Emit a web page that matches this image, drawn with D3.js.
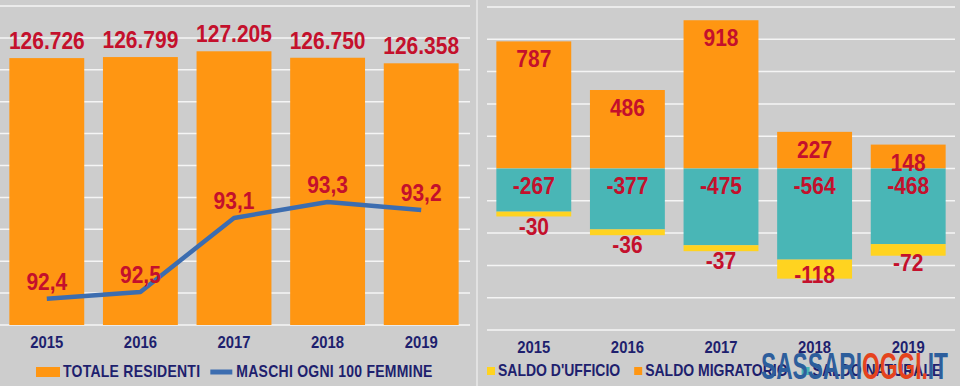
<!DOCTYPE html>
<html>
<head>
<meta charset="utf-8">
<script src="https://cdn.jsdelivr.net/npm/d3@7"></script>
<style>
    body { margin: 0; background: #cdcdcd; }
    svg { display: block; }
    text { font-family: Arial, "Liberation Sans", sans-serif; }
</style>
</head>
<body>
<div id="chart"></div>
<script>
// data
const years = ['2015', '2016', '2017', '2018', '2019'];
const totaleResidenti = [126726, 126799, 127205, 126750, 126358];
const maschiOgni100 = [92.43, 92.49, 93.14, 93.28, 93.21];
const saldoMigratorio = [787, 486, 918, 227, 148];
const saldoNaturale = [-267, -377, -475, -564, -468];
const saldoUfficio = [-30, -36, -37, -118, -72];

const leftLegend = ['TOTALE RESIDENTI', 'MASCHI OGNI 100 FEMMINE'];
const rightLegend = [
    {key: 'ufficio', label: "SALDO D'UFFICIO"},
    {key: 'migratorio', label: 'SALDO MIGRATORIO'},
    {key: 'naturale', label: 'SALDO NATURALE'},
];

const colors = {
    bg: '#cdcdcd',
    grid: '#f5f5f5',
    orange: '#ff9612',
    teal: '#49b6b6',
    yellow: '#ffd320',
    line: '#3c6db0',
    value: '#c4102c',
    navy: '#1e1f6e',
};

const W = 960;
const H = 386;
const SX = 0.875; // the reference text is a bit squeezed horizontally

const svg = d3.select('#chart')
    .append('svg')
    .attr('width', W)
    .attr('height', H);

svg.append('rect')
    .attr('width', W)
    .attr('height', H)
    .attr('fill', colors.bg);

const label = (g, x, y, txt, size, color, weight) => {
    return g.append('text')
        .attr('transform', 'translate(' + x + ',' + y + ') scale(' + SX + ',1)')
        .attr('text-anchor', 'middle')
        .attr('font-size', size)
        .attr('font-weight', weight || 'bold')
        .attr('fill', color)
        .text(txt);
};

const fmtInt = (v) => d3.format(',')(v).replace(/,/g, '.');
const fmtDec = (v) => d3.format('.1f')(v).replace('.', ',');

const yearAxis = (g, scale, y0) => {
    const ax = g.append('g')
        .attr('transform', 'translate(0,' + y0 + ')')
        .call(d3.axisBottom(scale).tickSize(0));
    ax.select('.domain').remove();
    ax.selectAll('text')
        .attr('y', 23)
        .attr('dy', 0)
        .attr('transform', 'scale(' + SX + ',1)')
        .attr('font-size', 17)
        .attr('font-weight', 'bold')
        .attr('font-family', 'Arial, "Liberation Sans", sans-serif')
        .attr('fill', colors.navy);
};

// ---------- left panel ----------
const left = svg.append('g').attr('class', 'left');

const xL = d3.scaleBand()
    .domain(years)
    .range([0, 468])
    .paddingInner(0.2)
    .paddingOuter(0.1);

const yL = d3.scaleLinear()
    .domain([107900, 130400])
    .range([325, 6]);

const yM = d3.scaleLinear()
    .domain([92.2, 95.0])
    .range([325, 6]);

const [lMin, lMax] = yL.domain();
left.append('g')
    .selectAll('line')
    .data(d3.range(11).map((i) => lMin + i * (lMax - lMin) / 10))
    .enter()
    .append('line')
    .attr('x1', 0)
    .attr('x2', 470)
    .attr('y1', (d) => yL(d))
    .attr('y2', (d) => yL(d))
    .attr('stroke', colors.grid)
    .attr('stroke-width', 1.5);

left.append('g')
    .selectAll('rect')
    .data(years)
    .enter()
    .append('rect')
    .attr('x', (d) => xL(d))
    .attr('width', xL.bandwidth())
    .attr('y', (d, i) => yL(totaleResidenti[i]))
    .attr('height', (d, i) => yL(lMin) - yL(totaleResidenti[i]))
    .attr('fill', colors.orange);

years.forEach((yr, i) => {
    label(left, xL(yr) + xL.bandwidth() / 2, yL(totaleResidenti[i]) - 9,
        fmtInt(totaleResidenti[i]), 24, colors.value);
});

const line = d3.line()
    .x((d, i) => xL(years[i]) + xL.bandwidth() / 2)
    .y((d) => yM(d));

left.append('path')
    .datum(maschiOgni100)
    .attr('d', line)
    .attr('fill', 'none')
    .attr('stroke', colors.line)
    .attr('stroke-width', 4.5)
    .attr('stroke-linejoin', 'round');

years.forEach((yr, i) => {
    label(left, xL(yr) + xL.bandwidth() / 2, yM(maschiOgni100[i]) - 9,
        fmtDec(maschiOgni100[i]), 24, colors.value);
});

yearAxis(left, xL, 325);

// left legend
left.append('rect')
    .attr('x', 36).attr('y', 367)
    .attr('width', 24).attr('height', 10)
    .attr('fill', colors.orange);
const t1 = label(left, 0, 377, leftLegend[0], 16, colors.navy)
    .attr('text-anchor', 'start')
    .attr('letter-spacing', 0.3)
    .attr('transform', 'translate(63,377) scale(' + SX + ',1)');
const lx = 63 + t1.node().getComputedTextLength() * SX + 10;
left.append('line')
    .attr('x1', lx).attr('x2', lx + 22)
    .attr('y1', 372).attr('y2', 372)
    .attr('stroke', colors.line)
    .attr('stroke-width', 5);
label(left, 0, 377, leftLegend[1], 16, colors.navy)
    .attr('text-anchor', 'start')
    .attr('letter-spacing', 0.3)
    .attr('transform', 'translate(' + (lx + 26) + ',377) scale(' + SX + ',1)');

// divider
svg.append('line')
    .attr('x1', 477).attr('x2', 477)
    .attr('y1', 0).attr('y2', H)
    .attr('stroke', '#e9e9e9')
    .attr('stroke-width', 1.5);

// ---------- right panel ----------
const right = svg.append('g').attr('class', 'right');

const xR = d3.scaleBand()
    .domain(years)
    .range([487, 955])
    .paddingInner(0.2)
    .paddingOuter(0.1);

const yR = d3.scaleLinear()
    .domain([-1000, 1000])
    .range([330, 7]);

right.append('g')
    .selectAll('line')
    .data(yR.ticks(10))
    .enter()
    .append('line')
    .attr('x1', 487)
    .attr('x2', 955)
    .attr('y1', (d) => yR(d))
    .attr('y2', (d) => yR(d))
    .attr('stroke', colors.grid)
    .attr('stroke-width', 1.5);

const table = years.map((yr, i) => ({
    year: yr,
    migratorio: saldoMigratorio[i],
    naturale: saldoNaturale[i],
    ufficio: saldoUfficio[i],
}));

const stack = d3.stack()
    .keys(['migratorio', 'naturale', 'ufficio'])
    .offset(d3.stackOffsetDiverging);
const series = stack(table);
const fills = {migratorio: colors.orange, naturale: colors.teal, ufficio: colors.yellow};

right.append('g')
    .selectAll('g')
    .data(series)
    .enter()
    .append('g')
    .attr('fill', (s) => fills[s.key])
    .selectAll('rect')
    .data((s) => s)
    .enter()
    .append('rect')
    .attr('x', (d) => xR(d.data.year))
    .attr('width', xR.bandwidth())
    .attr('y', (d) => yR(Math.max(d[0], d[1])))
    .attr('height', (d) => Math.abs(yR(d[0]) - yR(d[1])));

series.forEach((s) => {
    s.forEach((d) => {
        const cx = xR(d.data.year) + xR.bandwidth() / 2;
        const v = d.data[s.key];
        let by;
        if (s.key === 'migratorio') {
            by = yR(d[1]) + 26;
        } else if (s.key === 'naturale') {
            by = yR(0) + 25;
        } else {
            by = Math.min(yR((d[0] + d[1]) / 2) + 21, 283);
        }
        label(right, cx, by, String(v), 24, colors.value);
    });
});

yearAxis(right, xR, 330);

// right legend
let legX = 487;
rightLegend.forEach((item) => {
    right.append('rect')
        .attr('x', legX).attr('y', 367)
        .attr('width', 8).attr('height', 8)
        .attr('fill', fills[item.key]);
    const t = label(right, 0, 376, item.label, 16, colors.navy)
        .attr('text-anchor', 'start')
        .attr('transform', 'translate(' + (legX + 11) + ',376) scale(' + SX + ',1)');
    legX += 11 + t.node().getComputedTextLength() * SX + 14;
});

// watermark
const wm = svg.append('text')
    .attr('x', 761)
    .attr('y', 379)
    .attr('font-size', 37)
    .attr('font-weight', 'bold')
    .attr('textLength', 187)
    .attr('lengthAdjust', 'spacingAndGlyphs');
wm.append('tspan').attr('fill', '#2d5e9c').text('SASSARI');
wm.append('tspan').attr('fill', '#e5431d').text('OGGI.');
wm.append('tspan').attr('fill', '#2d5e9c').text('IT');
</script>
</body>
</html>
